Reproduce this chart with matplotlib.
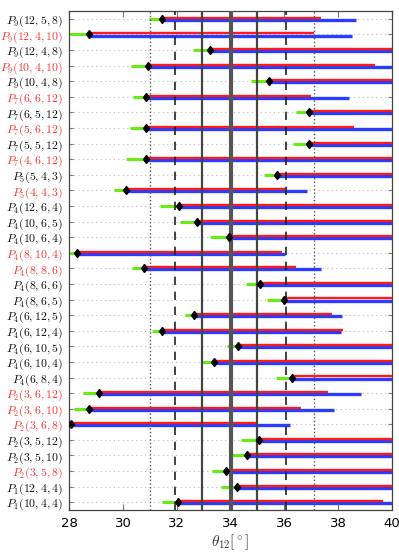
import matplotlib
matplotlib.use("Agg")
import matplotlib.pyplot as plt
import numpy as np

plt.rcParams['mathtext.fontset'] = 'cm'

labels = [r"P_9(12,5,8)", r"P_9(12,4,10)", r"P_9(12,4,8)", r"P_9(10,4,10)", r"P_9(10,4,8)",
          r"P_7(6,6,12)", r"P_7(6,5,12)", r"P_7(5,6,12)", r"P_7(5,5,12)", r"P_7(4,6,12)",
          r"P_5(5,4,3)", r"P_5(4,4,3)", r"P_4(12,6,4)", r"P_4(10,6,5)", r"P_4(10,6,4)",
          r"P_4(8,10,4)", r"P_4(8,8,6)", r"P_4(8,6,6)", r"P_4(8,6,5)", r"P_4(6,12,5)",
          r"P_4(6,12,4)", r"P_4(6,10,5)", r"P_4(6,10,4)", r"P_4(6,8,4)", r"P_2(3,6,12)",
          r"P_2(3,6,10)", r"P_2(3,6,8)", r"P_2(3,5,12)", r"P_2(3,5,10)", r"P_2(3,5,8)",
          r"P_1(12,4,4)", r"P_1(10,4,4)"]
highlight = [0, 1, 0, 1, 0, 1, 0, 1, 0, 1, 0, 1, 0, 0, 0, 1, 1, 0, 0, 0, 0, 0, 0, 0, 1, 1, 1, 0, 0, 1, 0, 0]

green_start = [30.97, 27.9, 32.59, 30.29, 34.77, 30.37, 36.43, 30.25, 36.32, 30.10,
               35.23, 29.67, 31.36, 32.10, 33.22, 27.9, 30.33, 34.56, 35.37, 32.29,
               31.06, 33.88, 32.89, 35.70, 28.51, 28.18, 27.5, 34.38, 34.00, 33.29,
               33.63, 31.45]
marker_x = [31.44, 28.71, 33.22, 30.93, 35.42, 30.84, 36.93, 30.84, 36.93, 30.84,
            35.73, 30.09, 32.07, 32.73, 33.94, 28.27, 30.77, 35.08, 35.97, 32.64,
            31.45, 34.29, 33.37, 36.30, 29.11, 28.74, 28.06, 35.04, 34.62, 33.84,
            34.25, 32.04]
red_end = [37.37, 37.10, 40.5, 39.38, 40.5, 37.00, 40.5, 38.58, 40.5, 40.5,
           40.5, 36.04, 40.5, 40.5, 40.5, 35.93, 36.42, 40.5, 40.5, 37.78,
           38.18, 40.5, 40.5, 40.5, 37.62, 36.63, 34.98, 40.5, 40.5, 40.5,
           40.5, 39.67]
blue_end = [38.68, 38.51, 40.5, 40.5, 40.5, 38.39, 40.5, 40.5, 40.5, 40.5,
            40.5, 36.85, 40.5, 40.5, 40.5, 36.04, 37.35, 40.5, 40.5, 38.14,
            38.09, 40.5, 40.5, 40.5, 38.84, 37.84, 36.20, 40.5, 40.5, 40.5,
            40.5, 40.5]

ref_lines = [31.0, 31.92, 32.95, 34.0, 35.0, 36.07, 37.1]
ref_styles = [(':', 1.0, '#555555'), ((0, (5, 4)), 1.2, '#222222'), ('-', 1.6, '#444444'),
              ('-', 3.0, '#555555'), ('-', 1.6, '#444444'), ((0, (5, 4)), 1.2, '#222222'),
              (':', 1.0, '#555555')]

fig = plt.figure(figsize=(3.99, 5.55), dpi=100)
ax = fig.add_axes([0.174, 0.081, 0.808, 0.899])

n = len(labels)
ys = np.arange(n)
for y in ys:
    ax.axhline(y, color='#bbbbbb', lw=0.8, ls=(0, (1, 3)), zorder=1)

for i in range(n):
    y = ys[i]
    ax.plot([green_start[i], marker_x[i]], [y, y], color='#66ee11', lw=2.2,
            solid_capstyle='butt', zorder=2)
    ax.plot([marker_x[i], blue_end[i]], [y + 0.065, y + 0.065], color='#2a3cff', lw=2.4,
            solid_capstyle='butt', zorder=3)
    ax.plot([marker_x[i], red_end[i]], [y - 0.07, y - 0.07], color='#ff1a1a', lw=1.7,
            solid_capstyle='butt', zorder=4)
    ax.plot([marker_x[i]], [y], marker='d', color='black', ms=4.3, zorder=6)

for xv, (ls, lw, c) in zip(ref_lines, ref_styles):
    ax.axvline(xv, ls=ls, lw=lw, color=c, zorder=5)

ax.set_xlim(28, 40)
ax.set_ylim(n - 0.5, -0.5)
ax.set_xticks([28, 30, 32, 34, 36, 38, 40])
ax.set_yticks(ys)
ax.set_yticklabels(['$' + l + '$' for l in labels], fontsize=8.5)
for t, h in zip(ax.get_yticklabels(), highlight):
    t.set_color('#ff3333' if h else '#111111')
ax.tick_params(axis='x', labelsize=9.5, direction='in', top=True, length=4, color='#777777', pad=5)
ax.tick_params(axis='y', direction='in', right=True, length=3, color='#777777', pad=4.5)
ax.set_xlabel(r'$\theta_{12}[^\circ]$', fontsize=11, color='#333333', labelpad=2)
for s in ax.spines.values():
    s.set_color('#444444')
    s.set_linewidth(0.9)

fig.savefig('out.png', dpi=100)
